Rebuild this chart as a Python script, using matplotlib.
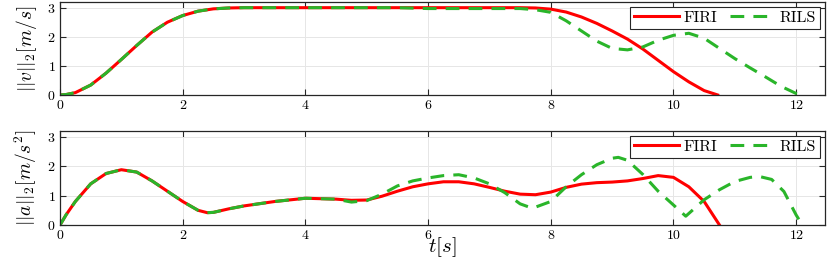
import matplotlib
matplotlib.use("Agg")
import matplotlib.pyplot as plt

# ── data ──────────────────────────────────────────────────────────────────────
t_rise = [0.0, 0.1, 0.25, 0.5, 0.75, 1.0, 1.25, 1.5, 1.75, 2.0, 2.25, 2.5, 2.75, 3.0,
          4.0, 5.0, 5.5]
v_rise = [0.0, 0.015, 0.08, 0.34, 0.75, 1.22, 1.70, 2.16, 2.50, 2.73, 2.88, 2.96, 2.99, 3.0,
          3.0, 3.0, 3.0]

t_v_firi = t_rise + [6.0, 7.0, 7.5, 7.75, 8.0, 8.25, 8.5, 8.75, 9.0, 9.25, 9.5, 9.75,
                     10.0, 10.25, 10.5, 10.72]
v_firi = v_rise + [3.0, 3.0, 3.0, 2.99, 2.95, 2.85, 2.68, 2.46, 2.2, 1.92, 1.58, 1.19,
                   0.8, 0.45, 0.15, 0.0]

t_v_rils = t_rise + [6.0, 7.0, 7.5, 7.75, 8.0, 8.25, 8.5, 8.75, 9.0, 9.25, 9.5, 9.75,
                     10.0, 10.25, 10.5, 10.75, 11.0, 11.25, 11.5, 11.75, 12.0, 12.1]
v_rils = v_rise + [2.97, 2.97, 2.97, 2.93, 2.84, 2.55, 2.2, 1.85, 1.6, 1.55, 1.65, 1.88,
                   2.05, 2.12, 1.95, 1.6, 1.25, 0.93, 0.62, 0.3, 0.05, 0.0]

t_acc = [0.0, 0.1, 0.25, 0.5, 0.75, 1.0, 1.25, 1.5, 1.75, 2.0, 2.25, 2.4, 2.5, 2.75,
         3.0, 3.5, 4.0, 4.5]
a_acc = [0.0, 0.35, 0.8, 1.4, 1.75, 1.88, 1.8, 1.5, 1.15, 0.8, 0.5, 0.42, 0.43, 0.55,
         0.65, 0.8, 0.91, 0.88]

t_a_firi = t_acc + [4.75, 5.0, 5.25, 5.5, 5.75, 6.0, 6.25, 6.5, 6.75, 7.0, 7.25, 7.5, 7.75,
                    8.0, 8.25, 8.5, 8.75, 9.0, 9.25, 9.5, 9.75, 10.0, 10.25, 10.5, 10.75]
a_firi = a_acc + [0.84, 0.85, 0.98, 1.15, 1.3, 1.4, 1.47, 1.47, 1.4, 1.28, 1.15, 1.05, 1.03,
                  1.12, 1.28, 1.39, 1.44, 1.46, 1.5, 1.58, 1.68, 1.62, 1.3, 0.8, 0.0]

t_a_rils = t_acc + [4.75, 5.0, 5.25, 5.5, 5.75, 6.0, 6.25, 6.5, 6.75, 7.0, 7.25, 7.5, 7.7,
                    8.0, 8.25, 8.5, 8.75, 9.0, 9.1, 9.25, 9.5, 9.75, 10.0, 10.2, 10.5,
                    10.75, 11.0, 11.25, 11.4, 11.6, 11.8, 12.0, 12.1]
a_rils = a_acc + [0.78, 0.83, 1.05, 1.33, 1.5, 1.6, 1.68, 1.71, 1.6, 1.4, 1.1, 0.72, 0.57,
                  0.8, 1.3, 1.71, 2.05, 2.27, 2.3, 2.2, 1.72, 1.15, 0.68, 0.3, 0.86,
                  1.2, 1.48, 1.62, 1.65, 1.55, 1.14, 0.34, 0.0]

# ── style ─────────────────────────────────────────────────────────────────────
plt.rcParams["font.family"] = "serif"
plt.rcParams["font.serif"] = ["cmr10", "DejaVu Serif"]
plt.rcParams["mathtext.fontset"] = "cm"
plt.rcParams["axes.formatter.use_mathtext"] = True
plt.rcParams["axes.unicode_minus"] = False

fig = plt.figure(figsize=(8.3, 2.66), dpi=100)
ax1 = fig.add_axes([0.0723, 0.643, 0.9217, 0.35])
ax2 = fig.add_axes([0.0723, 0.154, 0.9217, 0.354])

red = "#ff0000"
green = "#2ab52a"

panels = [
    (ax1, t_v_firi, v_firi, t_v_rils, v_rils, r"$||v||_2[m/s]$"),
    (ax2, t_a_firi, a_firi, t_a_rils, a_rils, r"$||a||_2[m/s^2]$"),
]

for ax, tf, yf, tr, yr, ylabel in panels:
    ax.plot(tf, yf, color=red, lw=2.2, label="FIRI")
    ax.plot(tr, yr, color=green, lw=2.2, ls=(0, (4.5, 3)), label="RILS")
    ax.set_xlim(0, 12.47)
    ax.set_ylim(0, 3.2)
    ax.set_xticks([0, 2, 4, 6, 8, 10, 12])
    ax.set_yticks([0, 1, 2, 3])
    ax.grid(True, color="#e6e6e6", lw=0.7)
    ax.set_axisbelow(True)
    ax.tick_params(direction="in", top=True, right=True, labelsize=10,
                   length=4, width=0.8, color="#262626", pad=3)
    for s in ax.spines.values():
        s.set_color("#262626")
        s.set_linewidth(0.9)
    ax.set_ylabel(ylabel, fontsize=14, labelpad=6)
    leg = ax.legend(loc="upper right", ncol=2, fontsize=11.5, fancybox=False,
                    edgecolor="#262626", framealpha=1, handlelength=2.8,
                    borderpad=0.25, handletextpad=0.3, columnspacing=0.8,
                    borderaxespad=0.3)
    leg.get_frame().set_linewidth(0.8)

ax2.set_xlabel(r"$t[s]$", fontsize=15, labelpad=-5)

fig.savefig("out.png", dpi=100)
